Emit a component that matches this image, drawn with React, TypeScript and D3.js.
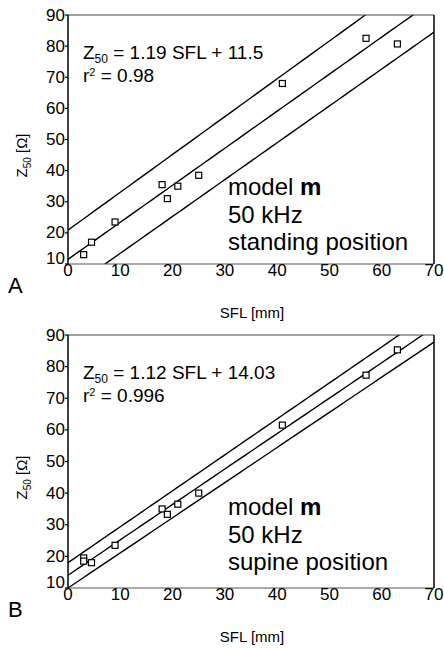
import React from "react";
import * as d3 from "d3";

const xTicks = [0, 10, 20, 30, 40, 50, 60, 70];
const yTicks = [10, 20, 30, 40, 50, 60, 70, 80, 90];

// Panel A: standing position
const sflA = [3, 4.5, 9, 18, 19, 21, 25, 41, 57, 63];
const zA = [13, 17, 23.5, 35.5, 31, 35, 38.5, 68, 82.5, 80.7];
// lines: [intercept, slope] for fit, upper and lower band
const fitA = [11.5, 1.19];
const upperA = [20.9, 1.215];
const lowerA = [1.6, 1.184];

// Panel B: supine position
const sflB = [3, 3, 4.5, 9, 18, 19, 21, 25, 41, 57, 63];
const zB = [19.5, 18.5, 18, 23.5, 35, 33.3, 36.5, 40, 61.5, 77.3, 85.3];
const fitB = [14.03, 1.12];
const upperB = [18, 1.137];
const lowerB = [10, 1.111];

const FONT = "Liberation Sans, Arial, sans-serif";

type PanelProps = {
  top: number;
  bottom: number;
  sfl: number[];
  z: number[];
  lines: number[][];
  eq: string;
  r2: string;
  cond: string;
  letter: string;
  id: string;
};

function Panel({ top, bottom, sfl, z, lines, eq, r2, cond, letter, id }: PanelProps) {
  const x = d3.scaleLinear().domain([0, 70]).range([68, 434]);
  const y = d3.scaleLinear().domain([10, 90]).range([bottom, top]);
  const xs = d3.range(-5, 76, 1);
  const lineGen = (ab: number[]) =>
    d3
      .line<number>()
      .x((d) => x(d))
      .y((d) => y(ab[0] + ab[1] * d))(xs) as string;
  const clipId = "clip" + id;
  return (
    <g fontFamily={FONT}>
      <defs>
        <clipPath id={clipId}>
          <rect x={x(0)} y={y(90)} width={x(70) - x(0)} height={y(10) - y(90)} />
        </clipPath>
      </defs>
      <g clipPath={`url(#${clipId})`}>
        {lines.map((ab, i) => (
          <path key={i} d={lineGen(ab)} fill="none" stroke="#000" strokeWidth={1.4} />
        ))}
      </g>
      {/* frame */}
      <line x1={x(0)} x2={x(70)} y1={y(90)} y2={y(90)} stroke="#444" strokeWidth={1} />
      <line x1={x(0)} x2={x(70)} y1={y(10)} y2={y(10)} stroke="#555" strokeWidth={1} />
      <line x1={x(0)} x2={x(0)} y1={y(90)} y2={y(10)} stroke="#000" strokeWidth={1.5} />
      <line x1={x(70)} x2={x(70)} y1={y(90)} y2={y(10)} stroke="#000" strokeWidth={1.5} />
      {/* y ticks */}
      {yTicks.map((t) => (
        <g key={t}>
          <line x1={x(0) - 3} x2={x(0)} y1={y(t)} y2={y(t)} stroke="#000" strokeWidth={1.2} />
          <text
            x={x(0) - 3}
            y={t === 10 ? y(t) - 6 : y(t)}
            textAnchor="end"
            dominantBaseline="central"
            fontSize={17}
          >
            {t}
          </text>
        </g>
      ))}
      {/* x ticks */}
      {xTicks.map((t) => (
        <text key={t} x={x(t)} y={y(10) + 12} textAnchor="middle" fontSize={17}>
          {t}
        </text>
      ))}
      {/* points */}
      {sfl.map((s, i) => (
        <rect
          key={i}
          x={x(s) - 3}
          y={y(z[i]) - 3}
          width={6}
          height={6}
          fill="#fff"
          stroke="#000"
          strokeWidth={1.2}
        />
      ))}
      {/* equation */}
      <text x={83} y={top + 44} fontSize={19}>
        Z
        <tspan fontSize={12} dy={4}>50</tspan>
        <tspan dy={-4}>{" " + eq}</tspan>
      </text>
      <text x={83} y={top + 67} fontSize={19}>
        r<tspan fontSize={11} dy={-6}>2</tspan>
        <tspan dy={6}>{" = " + r2}</tspan>
      </text>
      {/* condition */}
      <text x={228} y={top + 180} fontSize={24}>
        model <tspan fontWeight="bold">m</tspan>
      </text>
      <text x={228} y={top + 208} fontSize={24}>
        50 kHz
      </text>
      <text x={228} y={top + 235} fontSize={24}>
        {cond}
      </text>
      {/* axis labels */}
      <text x={8} y={bottom + 29} fontSize={22}>
        {letter}
      </text>
      <text x={252} y={bottom + 54} textAnchor="middle" fontSize={15}>
        SFL [mm]
      </text>
      <text
        transform={`translate(27,${(top + bottom) / 2 + 16}) rotate(-90)`}
        textAnchor="middle"
        fontSize={15}
      >
        Z<tspan fontSize={10} dy={4}>50</tspan>
        <tspan dy={-4}> [Ω]</tspan>
      </text>
    </g>
  );
}

export default function App() {
  return (
    <svg
      width={444}
      height={649}
      style={{ position: "absolute", left: 0, top: 0, background: "#fff" }}
    >
      <rect width={444} height={649} fill="#fff" />
      <Panel
        id="A"
        top={15}
        bottom={264}
        sfl={sflA}
        z={zA}
        lines={[fitA, upperA, lowerA]}
        eq="= 1.19 SFL + 11.5"
        r2="0.98"
        cond="standing position"
        letter="A"
      />
      <Panel
        id="B"
        top={335}
        bottom={588}
        sfl={sflB}
        z={zB}
        lines={[fitB, upperB, lowerB]}
        eq="= 1.12 SFL + 14.03"
        r2="0.996"
        cond="supine position"
        letter="B"
      />
    </svg>
  );
}
